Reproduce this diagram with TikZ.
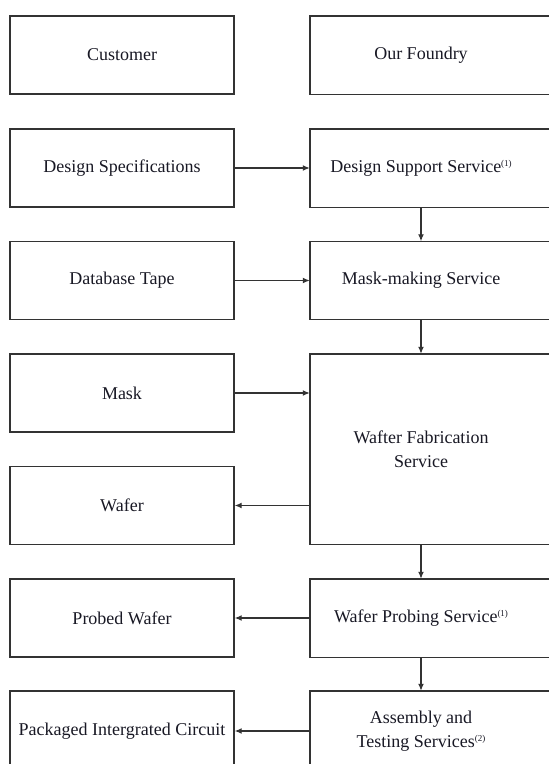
\documentclass[tikz,border=0pt]{standalone}
\usepackage{fontspec}
\setmainfont{Liberation Serif}
\usetikzlibrary{arrows.meta}
\definecolor{boxc}{HTML}{333333}
\definecolor{txtc}{HTML}{181824}
\newcommand{\supnote}[1]{{\fontsize{9}{9}\selectfont\raisebox{6pt}{(#1)}}}
\tikzset{
  boxline/.style={draw=boxc, line width=1.4pt},
  lbox/.style={boxline, rectangle, minimum width=224pt, minimum height=78pt, inner sep=0pt,
    font=\fontsize{18}{23.5}\selectfont, text=txtc, align=center},
  rtext/.style={rectangle, minimum width=222pt, minimum height=78pt, inner sep=0pt,
    font=\fontsize{18}{23.5}\selectfont, text=txtc, align=center},
  conn/.style={draw=boxc, line width=1.3pt, -{Latex[length=7pt,width=6pt]}},
}
\newcommand{\rframe}[1]{\draw[boxline] ([xshift=40pt]#1.north east) -| (#1.south west) -- ([xshift=40pt]#1.south east);}
\begin{document}
\begin{tikzpicture}[x=1pt,y=-1pt]
\useasboundingbox (0,0) rectangle (549,764);
\clip (0,0) rectangle (549,764);
% left column
\node[lbox] (cust) at (122,55) {Customer};
\node[lbox] (spec) at (122,168) {Design Specifications};
\node[lbox] (tape) at (122,280.5) {Database Tape};
\node[lbox] (mask) at (122,393) {Mask};
\node[lbox] (wafer) at (122,505.5) {Wafer};
\node[lbox] (probed) at (122,618) {Probed Wafer};
\node[lbox, minimum height=80pt] (pkg) at (122,731) {Packaged Intergrated Circuit};
% right column
\node[rtext] (found) at (421,55) {Our Foundry};
\rframe{found}
\node[rtext] (dss) at (421,168) {Design Support Service\supnote{1}};
\rframe{dss}
\node[rtext] (mms) at (421,280.5) {Mask-making Service};
\rframe{mms}
\node[rtext, minimum height=190pt] (wfs) at (421,449) {Wafter Fabrication\\Service};
\rframe{wfs}
\node[rtext] (wps) at (421,618) {Wafer Probing Service\supnote{1}};
\rframe{wps}
\node[rtext, minimum height=80pt] (ats) at (421,731) {Assembly and\\Testing Services\supnote{2}};
\rframe{ats}
% connectors
\draw[conn] (spec.east) -- (dss.west);
\draw[conn] (tape.east) -- (mms.west);
\draw[conn] (mask.east) -- (mask.east -| wfs.west);
\draw[conn] (wafer.east -| wfs.west) -- (wafer.east);
\draw[conn] (wps.west) -- (probed.east);
\draw[conn] (ats.west) -- (pkg.east);
\draw[conn] (dss.south) -- (mms.north);
\draw[conn] (mms.south) -- (wfs.north);
\draw[conn] (wfs.south) -- (wps.north);
\draw[conn] (wps.south) -- (ats.north);
\end{tikzpicture}
\end{document}
